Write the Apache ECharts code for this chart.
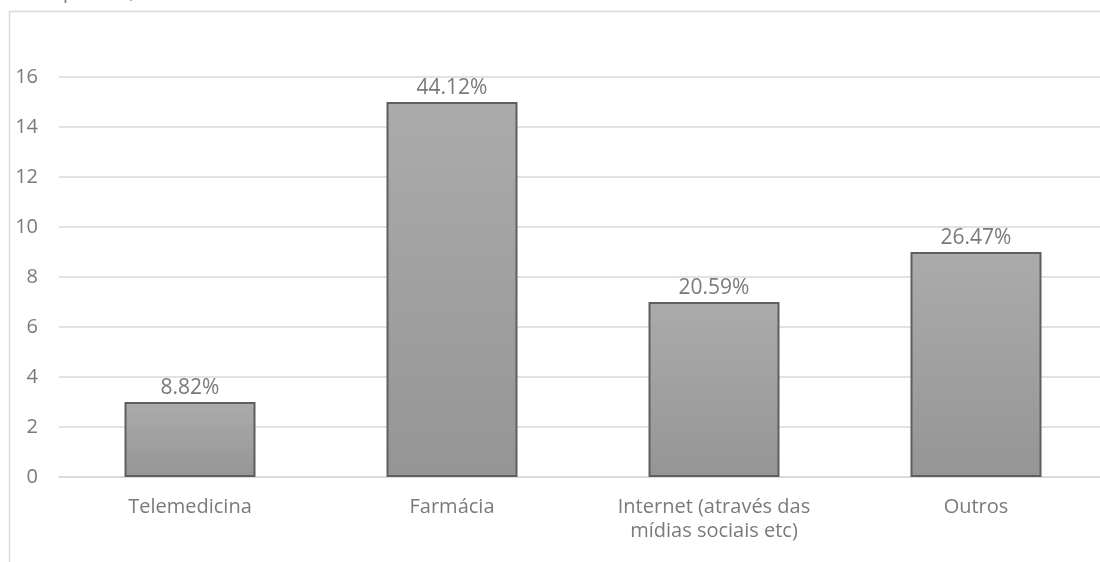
<!DOCTYPE html>
<html>
<head>
<meta charset="utf-8">
<script src="https://cdn.jsdelivr.net/npm/echarts@6/dist/echarts.min.js"></script>
<style>
html,body{margin:0;padding:0;background:#fff;}
#c{width:1100px;height:562px;}
</style>
</head>
<body>
<div id="c"></div>
<script>
const categories = ['Telemedicina', 'Farmácia', 'Internet (através das\nmídias sociais etc)', 'Outros'];
const counts = [3, 15, 7, 9];
const percentLabels = ['8.82%', '44.12%', '20.59%', '26.47%'];
const yTicks = [0, 2, 4, 6, 8, 10, 12, 14, 16];

const chart = echarts.init(document.getElementById('c'), null, {renderer: 'canvas'});
const font = '"Open Sans", "Liberation Sans", sans-serif';
chart.setOption({
  animation: false,
  backgroundColor: '#ffffff',
  graphic: [
    {type: 'rect', shape: {x: 9.5, y: 11.5, width: 1200, height: 700}, style: {fill: 'none', stroke: '#d9d9d9', lineWidth: 1.5}, z: -1},
    {type: 'text', left: 26, top: -18, style: {text: 'Frequência, n=34', font: '20px ' + font, fill: '#7a7a7a'}}
  ],
  grid: {left: 59, top: 77, width: 1048, height: 400, containLabel: false, outerBoundsMode: 'none'},
  xAxis: {
    type: 'category',
    data: categories,
    axisLine: {show: true, lineStyle: {color: '#d9d9d9', width: 1.5}},
    axisTick: {show: false},
    axisLabel: {color: '#7a7a7a', fontSize: 20, fontFamily: font, lineHeight: 24, margin: 18, interval: 0}
  },
  yAxis: {
    type: 'value',
    min: yTicks[0],
    max: yTicks[yTicks.length - 1],
    interval: 2,
    axisLine: {show: false},
    axisTick: {show: false},
    axisLabel: {color: '#7a7a7a', fontSize: 20, fontFamily: font, margin: 21},
    splitLine: {lineStyle: {color: '#d9d9d9', width: 1.5}}
  },
  series: [{
    type: 'bar',
    data: counts,
    barWidth: '50%',
    itemStyle: {
      color: new echarts.graphic.LinearGradient(0, 0, 0, 1, [
        {offset: 0, color: '#ababab'},
        {offset: 1, color: '#959595'}
      ]),
      borderColor: '#5f5f5f',
      borderWidth: 2
    },
    label: {
      show: true,
      position: 'top',
      distance: 3,
      color: '#7a7a7a',
      fontSize: 21,
      fontFamily: font,
      formatter: p => percentLabels[p.dataIndex]
    }
  }]
});
</script>
</body>
</html>
